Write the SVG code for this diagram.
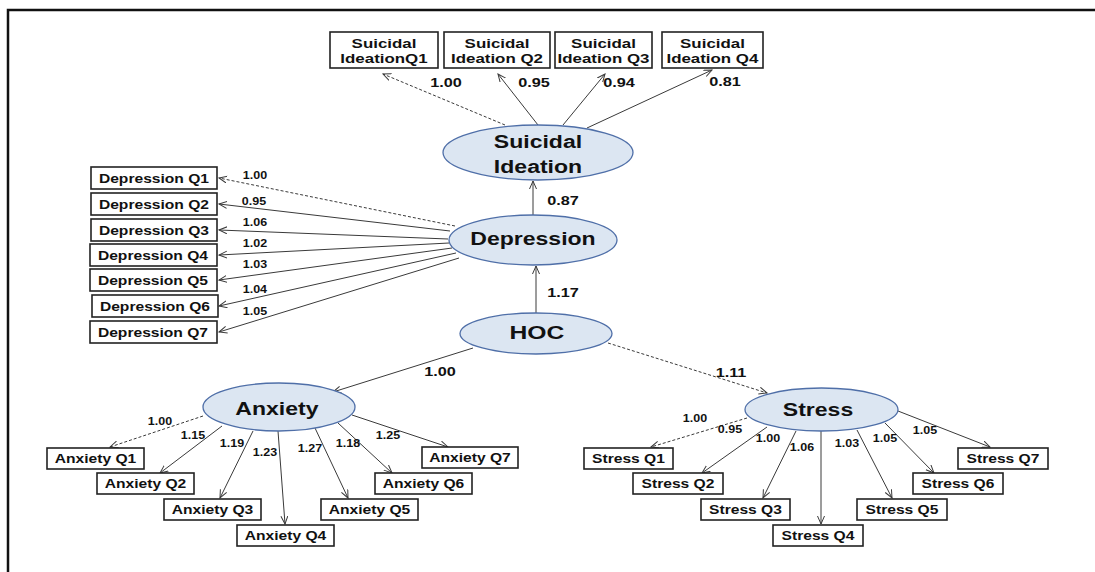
<svg xmlns="http://www.w3.org/2000/svg" width="1095" height="572" viewBox="0 0 1095 572">
<style>
text{font-family:"Liberation Sans",Arial,sans-serif;font-weight:bold;fill:#111;text-anchor:middle;transform-box:fill-box;transform-origin:center}
.big{font-size:18px;transform:scaleX(1.28)}
.hoc{font-size:19px;transform:scaleX(1.3)}
.box{font-size:12.5px;transform:scaleX(1.25)}
.si{font-size:13px;transform:scaleX(1.3)}
.lb{font-size:12.5px;transform:scaleX(1.3)}
.sm{font-size:10px;transform:scaleX(1.25)}
.lat{fill:#dce6f2;stroke:#4f6fa8;stroke-width:1.3}
.obs{fill:#fff;stroke:#222;stroke-width:1.6}
.e{stroke:#3a3a3a;stroke-width:1;fill:none;marker-end:url(#ar)}
.d{stroke-dasharray:3 2}
</style>
<defs>
<marker id="ar" markerUnits="userSpaceOnUse" markerWidth="9" markerHeight="9" refX="8" refY="4" orient="auto">
<path d="M0,0.5 L8,4 L0,7.5" fill="none" stroke="#3a3a3a" stroke-width="1"/>
</marker>
</defs>
<rect x="0" y="0" width="1095" height="572" fill="#fff"/>
<path d="M8,572 L8,10 L1095,10" fill="none" stroke="#111" stroke-width="2.5"/>

<g id="connectors">
<line class="e d" x1="505" y1="125" x2="383" y2="74"/>
<line class="e" x1="538" y1="125" x2="498" y2="74"/>
<line class="e" x1="563" y1="125" x2="605" y2="74"/>
<line class="e" x1="587" y1="128" x2="712" y2="70"/>
<line class="e" x1="533" y1="215" x2="533" y2="181"/>
<line class="e" x1="536" y1="313" x2="536" y2="266"/>
<line class="e" x1="473" y1="348" x2="333" y2="392"/>
<line class="e d" x1="608" y1="343" x2="767" y2="393"/>
<line class="e d" x1="455" y1="226" x2="219" y2="178"/>
<line class="e" x1="450" y1="231" x2="219" y2="204"/>
<line class="e" x1="448" y1="239" x2="219" y2="230"/>
<line class="e" x1="449" y1="243" x2="219" y2="255"/>
<line class="e" x1="452" y1="248" x2="219" y2="280"/>
<line class="e" x1="456" y1="253" x2="219" y2="306"/>
<line class="e" x1="459" y1="258" x2="219" y2="332"/>
<line class="e d" x1="203" y1="416" x2="110" y2="447"/>
<line class="e" x1="222" y1="426" x2="160" y2="473"/>
<line class="e" x1="253" y1="431" x2="220" y2="498"/>
<line class="e" x1="278" y1="431" x2="285" y2="524"/>
<line class="e" x1="315" y1="428" x2="348" y2="498"/>
<line class="e" x1="338" y1="423" x2="392" y2="473"/>
<line class="e" x1="352" y1="415" x2="448" y2="447"/>
<line class="e d" x1="747" y1="418" x2="651" y2="447"/>
<line class="e" x1="767" y1="427" x2="702" y2="473"/>
<line class="e" x1="796" y1="431" x2="763" y2="498"/>
<line class="e" x1="821" y1="431" x2="821" y2="524"/>
<line class="e" x1="857" y1="430" x2="892" y2="498"/>
<line class="e" x1="885" y1="423" x2="934" y2="473"/>
<line class="e" x1="898" y1="411" x2="990" y2="447"/>
<g id="labels">
<text class="lb" x="446" y="87">1.00</text>
<text class="lb" x="534" y="87">0.95</text>
<text class="lb" x="619" y="87">0.94</text>
<text class="lb" x="725" y="86">0.81</text>
<text class="lb" x="563" y="205">0.87</text>
<text class="lb" x="563" y="297">1.17</text>
<text class="lb" x="440" y="376">1.00</text>
<text class="lb" x="731" y="377">1.11</text>
<text class="sm" x="255" y="179">1.00</text>
<text class="sm" x="254" y="205">0.95</text>
<text class="sm" x="255" y="226">1.06</text>
<text class="sm" x="255" y="247">1.02</text>
<text class="sm" x="255" y="268">1.03</text>
<text class="sm" x="255" y="293">1.04</text>
<text class="sm" x="255" y="315">1.05</text>
<text class="sm" x="160" y="425">1.00</text>
<text class="sm" x="193" y="439">1.15</text>
<text class="sm" x="232" y="447">1.19</text>
<text class="sm" x="265" y="456">1.23</text>
<text class="sm" x="310" y="452">1.27</text>
<text class="sm" x="348" y="447">1.18</text>
<text class="sm" x="388" y="439">1.25</text>
<text class="sm" x="695" y="422">1.00</text>
<text class="sm" x="730" y="433">0.95</text>
<text class="sm" x="768" y="442">1.00</text>
<text class="sm" x="802" y="451">1.06</text>
<text class="sm" x="847" y="447">1.03</text>
<text class="sm" x="885" y="442">1.05</text>
<text class="sm" x="925" y="434">1.05</text>
</g>
</g>

<g id="suicidal-ideation"><ellipse class="lat" cx="538" cy="152.5" rx="95" ry="27.5"/><text class="big" x="538" y="148">Suicidal</text><text class="big" x="538" y="173">Ideation</text></g>
<g id="depression"><ellipse class="lat" cx="533" cy="240" rx="84" ry="25"/><text class="big" x="533" y="245">Depression</text></g>
<g id="hoc"><ellipse class="lat" cx="536" cy="333.5" rx="76" ry="20.5"/><text class="hoc" x="537" y="339">HOC</text></g>
<g id="anxiety"><ellipse class="lat" cx="279" cy="407" rx="76" ry="24"/><text class="big" x="277" y="415">Anxiety</text></g>
<g id="stress"><ellipse class="lat" cx="821.5" cy="409.5" rx="76.5" ry="21.5"/><text class="big" x="818" y="416">Stress</text></g>

<g id="si-q1"><rect class="obs" x="330" y="32" width="108" height="36"/><text class="si" x="384" y="48">Suicidal</text><text class="si" x="384" y="63">IdeationQ1</text></g>
<g id="si-q2"><rect class="obs" x="444" y="32" width="106" height="36"/><text class="si" x="497" y="48">Suicidal</text><text class="si" x="497" y="63">Ideation Q2</text></g>
<g id="si-q3"><rect class="obs" x="555" y="32" width="97" height="36"/><text class="si" x="603.5" y="48">Suicidal</text><text class="si" x="603.5" y="63">Ideation Q3</text></g>
<g id="si-q4"><rect class="obs" x="662" y="32" width="101" height="36"/><text class="si" x="712.5" y="48">Suicidal</text><text class="si" x="712.5" y="63">Ideation Q4</text></g>

<g id="dep-q1"><rect class="obs" x="91" y="167" width="126" height="22"/><text class="box" x="154" y="183">Depression Q1</text></g>
<g id="dep-q2"><rect class="obs" x="91" y="193" width="126" height="22"/><text class="box" x="154" y="209">Depression Q2</text></g>
<g id="dep-q3"><rect class="obs" x="91" y="219" width="126" height="22"/><text class="box" x="154" y="235">Depression Q3</text></g>
<g id="dep-q4"><rect class="obs" x="90" y="244" width="127" height="22"/><text class="box" x="153" y="260">Depression Q4</text></g>
<g id="dep-q5"><rect class="obs" x="90" y="269" width="127" height="22"/><text class="box" x="153" y="285">Depression Q5</text></g>
<g id="dep-q6"><rect class="obs" x="92" y="295" width="126" height="22"/><text class="box" x="155" y="311">Depression Q6</text></g>
<g id="dep-q7"><rect class="obs" x="90" y="321" width="127" height="22"/><text class="box" x="153" y="337">Depression Q7</text></g>

<g id="anx-q1"><rect class="obs" x="47" y="448" width="97" height="21"/><text class="box" x="95.5" y="463.5">Anxiety Q1</text></g>
<g id="anx-q2"><rect class="obs" x="97" y="473" width="97" height="21"/><text class="box" x="145.5" y="488.5">Anxiety Q2</text></g>
<g id="anx-q3"><rect class="obs" x="164" y="499" width="97" height="21"/><text class="box" x="212.5" y="514.5">Anxiety Q3</text></g>
<g id="anx-q4"><rect class="obs" x="237" y="525" width="97" height="21"/><text class="box" x="285.5" y="540.5">Anxiety Q4</text></g>
<g id="anx-q5"><rect class="obs" x="321" y="499" width="97" height="21"/><text class="box" x="369.5" y="514.5">Anxiety Q5</text></g>
<g id="anx-q6"><rect class="obs" x="375" y="473" width="97" height="21"/><text class="box" x="423.5" y="488.5">Anxiety Q6</text></g>
<g id="anx-q7"><rect class="obs" x="422" y="447" width="96" height="21"/><text class="box" x="470" y="462.5">Anxiety Q7</text></g>

<g id="str-q1"><rect class="obs" x="584" y="448" width="89" height="21"/><text class="box" x="628.5" y="463.5">Stress Q1</text></g>
<g id="str-q2"><rect class="obs" x="633" y="473" width="90" height="21"/><text class="box" x="678" y="488.5">Stress Q2</text></g>
<g id="str-q3"><rect class="obs" x="701" y="499" width="89" height="21"/><text class="box" x="745.5" y="514.5">Stress Q3</text></g>
<g id="str-q4"><rect class="obs" x="773" y="525" width="90" height="21"/><text class="box" x="818" y="540.5">Stress Q4</text></g>
<g id="str-q5"><rect class="obs" x="857" y="499" width="90" height="21"/><text class="box" x="902" y="514.5">Stress Q5</text></g>
<g id="str-q6"><rect class="obs" x="913" y="473" width="90" height="21"/><text class="box" x="958" y="488.5">Stress Q6</text></g>
<g id="str-q7"><rect class="obs" x="958" y="448" width="90" height="21"/><text class="box" x="1003" y="463.5">Stress Q7</text></g>
</svg>
